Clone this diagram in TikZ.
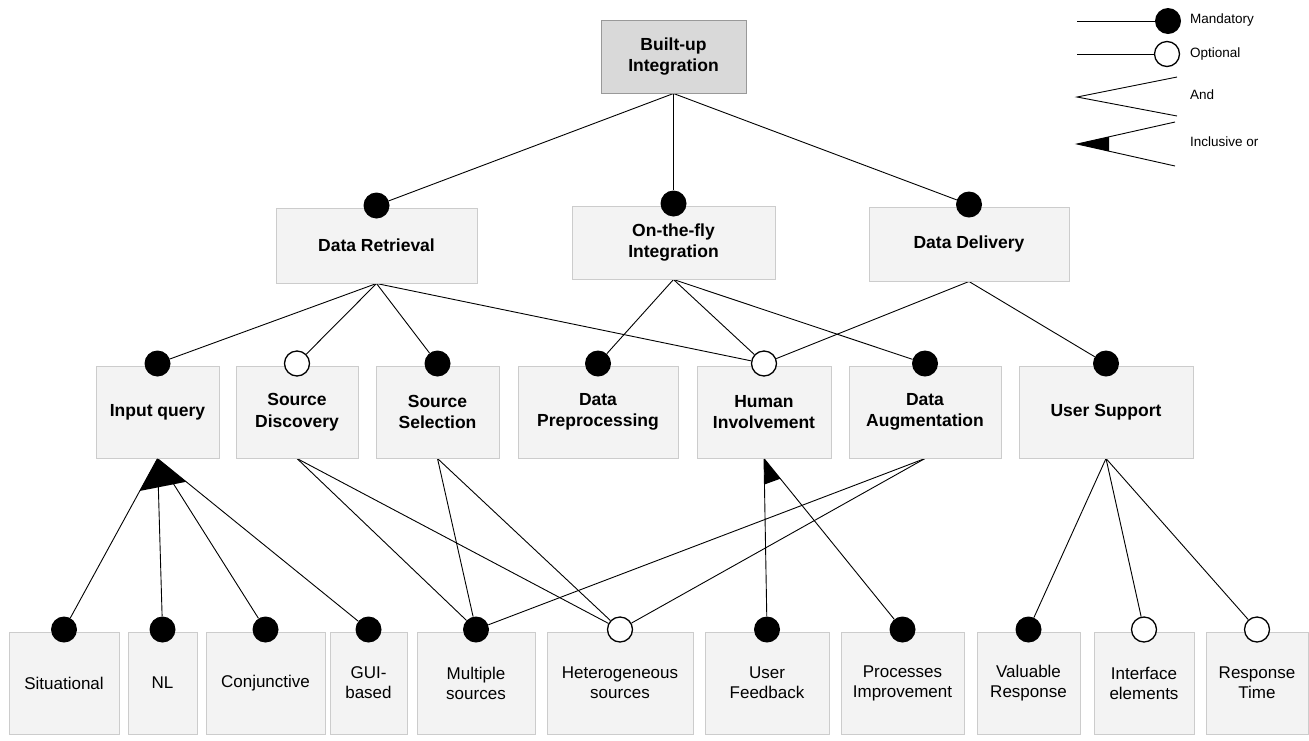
\documentclass[tikz,border=0pt]{standalone}
\usepackage{fontspec}
\setmainfont{Liberation Sans}
\usepackage{tikz}
\usetikzlibrary{calc, backgrounds}
\usepackage{xcolor}
\definecolor{boxfill}{HTML}{F3F3F3}
\definecolor{boxline}{HTML}{CCCCCC}
\definecolor{rootfill}{HTML}{D9D9D9}
\definecolor{rootline}{HTML}{999999}

\tikzset{
    feature/.style={draw=boxline, line width=1pt, fill=boxfill, inner sep=0pt, align=center, font=\fontsize{17.5}{21.5}\selectfont\bfseries},
    mid/.style={feature, minimum height=92pt},
    leaf/.style={feature, minimum height=102pt, font=\fontsize{17}{20}\selectfont},
    mand/.style={circle, fill=black, minimum size=26pt, inner sep=0pt},
    opt/.style={circle, draw=black, line width=1.3pt, fill=white, minimum size=25pt, inner sep=0pt},
    link/.style={line width=0.9pt},
    legtext/.style={anchor=west, inner sep=0pt, font=\fontsize{13.5}{16}\selectfont}
}

\begin{document}
\begin{tikzpicture}[x=1pt, y=-1pt]
    \useasboundingbox (0,0) rectangle (1309,740);

    % root
    \node[feature, fill=rootfill, draw=rootline, minimum width=145pt, minimum height=73pt] (root) at (673.5,56.5) {Built-up\\Integration};

    % first level
    \node[feature, minimum width=201pt, minimum height=75pt] (retrieval) at (376.5,245.5) {Data Retrieval};
    \node[feature, minimum width=203pt, minimum height=73pt] (onthefly) at (673.5,242.5) {On-the-fly\\Integration};
    \node[feature, minimum width=200pt, minimum height=74pt] (delivery) at (969,244) {Data Delivery};

    % second level
    \node[mid, minimum width=123pt] (input) at (157.5,412) {Input query};
    \node[mid, minimum width=122pt] (discovery) at (297,412) {Source\\Discovery};
    \node[mid, minimum width=123pt] (selection) at (437.5,412) {Source\\Selection};
    \node[mid, minimum width=160pt] (preproc) at (598,412) {Data\\Preprocessing};
    \node[mid, minimum width=134pt] (human) at (764,412) {Human\\Involvement};
    \node[mid, minimum width=152pt] (augment) at (925,412) {Data\\Augmentation};
    \node[mid, minimum width=174pt] (support) at (1106,412) {User Support};

    % leaves
    \node[leaf, minimum width=110pt] (situational) at (64,683) {Situational};
    \node[leaf, minimum width=69pt] (nl) at (162.5,683) {NL};
    \node[leaf, minimum width=119pt] (conj) at (265.5,683) {Conjunctive};
    \node[leaf, minimum width=77pt] (gui) at (368.5,683) {GUI-\\based};
    \node[leaf, minimum width=118pt] (multiple) at (476,683) {Multiple\\sources};
    \node[leaf, minimum width=146pt] (hetero) at (620,683) {Heterogeneous\\sources};
    \node[leaf, minimum width=124pt] (feedback) at (767,683) {User\\Feedback};
    \node[leaf, minimum width=123pt] (process) at (902.5,683) {Processes\\Improvement};
    \node[leaf, minimum width=103pt] (valuable) at (1028.5,683) {Valuable\\Response};
    \node[leaf, minimum width=100pt] (interface) at (1144,683) {Interface\\elements};
    \node[leaf, minimum width=102pt] (response) at (1257,683) {Response\\Time};

    % mandatory / optional markers
    \node[mand] (m-retrieval) at ([yshift=2pt]retrieval.north) {};
    \node[mand] (m-onthefly) at ([yshift=2pt]onthefly.north) {};
    \node[mand] (m-delivery) at ([yshift=2pt]delivery.north) {};
    \node[mand] (m-input) at ([yshift=2pt]input.north) {};
    \node[opt] (m-discovery) at ([yshift=2pt]discovery.north) {};
    \node[mand] (m-selection) at ([yshift=2pt]selection.north) {};
    \node[mand] (m-preproc) at ([yshift=2pt]preproc.north) {};
    \node[opt] (m-human) at ([yshift=2pt]human.north) {};
    \node[mand] (m-augment) at ([yshift=2pt]augment.north) {};
    \node[mand] (m-support) at ([yshift=2pt]support.north) {};
    \node[mand] (m-situational) at ([yshift=2pt]situational.north) {};
    \node[mand] (m-nl) at ([yshift=2pt]nl.north) {};
    \node[mand] (m-conj) at ([yshift=2pt]conj.north) {};
    \node[mand] (m-gui) at ([yshift=2pt]gui.north) {};
    \node[mand] (m-multiple) at ([yshift=2pt]multiple.north) {};
    \node[opt] (m-hetero) at ([yshift=2pt]hetero.north) {};
    \node[mand] (m-feedback) at ([yshift=2pt]feedback.north) {};
    \node[mand] (m-process) at ([yshift=2pt]process.north) {};
    \node[mand] (m-valuable) at ([yshift=2pt]valuable.north) {};
    \node[opt] (m-interface) at ([yshift=2pt]interface.north) {};
    \node[opt] (m-response) at ([yshift=2pt]response.north) {};

    \begin{scope}[on background layer]
        \foreach \child in {retrieval, onthefly, delivery}
            \draw[link] (root.south) -- (m-\child);
        \foreach \child in {input, discovery, selection, human}
            \draw[link] (retrieval.south) -- (m-\child);
        \foreach \child in {preproc, human, augment}
            \draw[link] (onthefly.south) -- (m-\child);
        \foreach \child in {human, support}
            \draw[link] (delivery.south) -- (m-\child);
        \foreach \child in {situational, nl, conj, gui}
            \draw[link] (input.south) -- (m-\child);
        \foreach \parent in {discovery, selection, augment} {
            \draw[link] (\parent.south) -- (m-multiple);
            \draw[link] (\parent.south) -- (m-hetero);
        }
        \foreach \child in {feedback, process}
            \draw[link] (human.south) -- (m-\child);
        \foreach \child in {valuable, interface, response}
            \draw[link] (support.south) -- (m-\child);
    \end{scope}

    % inclusive or
    \fill (input.south) -- ($(input.south)!37pt!(m-situational)$) -- ($(input.south)!37pt!(m-gui)$) -- cycle;
    \fill (human.south) -- ($(human.south)!26pt!(m-feedback)$) -- ($(human.south)!26pt!(m-process)$) -- cycle;

    % legend
    \node[mand] (lg-mand) at (1168,21) {};
    \coordinate (lg-mand-start) at (1077,21);
    \draw[link] (lg-mand-start) -- (lg-mand);
    \node[legtext] (lg-mand-text) at (1190,20) {Mandatory};

    \node[opt] (lg-opt) at (1167,54) {};
    \coordinate (lg-opt-start) at (1077,54);
    \draw[link] (lg-opt-start) -- (lg-opt);
    \node[legtext] (lg-opt-text) at (1190,54) {Optional};

    \coordinate (lg-and) at (1077,97);
    \coordinate (lg-and-up) at (1177,77);
    \coordinate (lg-and-down) at (1177,116);
    \draw[link] (lg-and-up) -- (lg-and) -- (lg-and-down);
    \node[legtext] (lg-and-text) at (1190,95) {And};

    \coordinate (lg-or) at (1077,144);
    \coordinate (lg-or-up) at (1175,122);
    \coordinate (lg-or-down) at (1175,166);
    \draw[link] (lg-or-up) -- (lg-or) -- (lg-or-down);
    \fill (lg-or) -- ($(lg-or)!33pt!(lg-or-up)$) -- ($(lg-or)!33pt!(lg-or-down)$) -- cycle;
    \node[legtext] (lg-or-text) at (1190,142) {Inclusive or};
\end{tikzpicture}
\end{document}
